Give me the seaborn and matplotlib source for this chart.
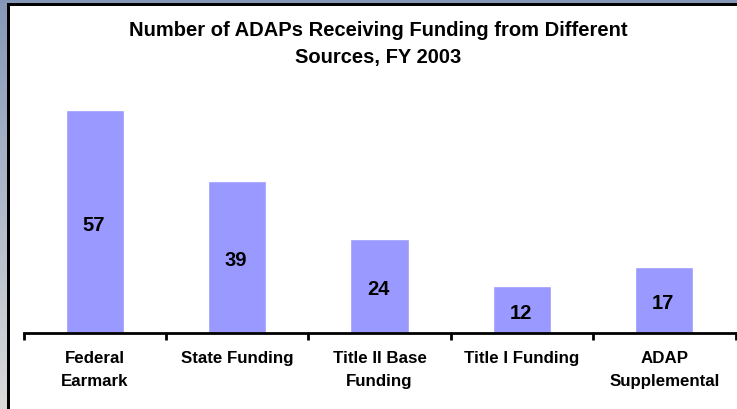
import numpy as np
import pandas as pd
import matplotlib
matplotlib.use("Agg")
import matplotlib.pyplot as plt
from matplotlib.patches import Rectangle
import seaborn as sns

categories = ["Federal\nEarmark", "State Funding", "Title II Base\nFunding", "Title I Funding", "ADAP\nSupplemental"]
values = [57, 39, 24, 12, 17]
title = "Number of ADAPs Receiving Funding from Different\nSources, FY 2003"

sns.set_theme(style="white")
plt.rcParams['font.family'] = ['Liberation Sans', 'DejaVu Sans']

W, H = 737, 410
fig = plt.figure(figsize=(W / 100, H / 100), dpi=100)
fig.patch.set_facecolor("white")

# background frame
bg = fig.add_axes([0, 0, 1, 1], zorder=-10)
bg.set_xlim(0, W)
bg.set_ylim(H, 0)
bg.axis("off")
grad = np.linspace(0, 1, 256)[:, None]
c_top = np.array([0x86, 0x98, 0xb7]) / 255
c_bot = np.array([0xda, 0xda, 0xda]) / 255
img = (c_top[None, None, :] * (1 - grad[:, :, None]) + c_bot[None, None, :] * grad[:, :, None])
bg.imshow(img, extent=(0, 7.5, H, 0), aspect="auto", zorder=0)
bg.add_patch(Rectangle((0, 0), W, 4.5, color="#8596b6", lw=0, zorder=1))
bg.add_patch(Rectangle((7.5, 4), W, 2.5, color="black", lw=0, zorder=2))
bg.add_patch(Rectangle((7.5, 4), 3, H, color="black", lw=0, zorder=2))

left, right = 23.5 / W, 735.5 / W
bottom, top = 1 - 334 / H, 1 - 99.4 / H
ax = fig.add_axes([left, bottom, right - left, top - bottom])
ax.patch.set_alpha(0)

df = pd.DataFrame({"cat": categories, "val": values})
sns.barplot(data=df, x="cat", y="val", color="#9999ff", saturation=1, width=0.41, ax=ax)
ax.set_xlim(-0.5, len(categories) - 0.5)
ax.set_ylim(0, 60)
ax.set_xlabel("")
ax.set_ylabel("")
ax.set_yticks([])

for s in ["top", "right", "left"]:
    ax.spines[s].set_visible(False)
ax.spines["bottom"].set_linewidth(2)
ax.spines["bottom"].set_color("black")

ax.set_xticks(np.arange(-0.5, len(categories)), minor=True)
ax.tick_params(axis="x", which="minor", direction="out", length=5, width=2, color="black", bottom=True)
ax.tick_params(axis="x", which="major", length=0, pad=12)
for lab in ax.get_xticklabels():
    lab.set_fontweight("bold")
    lab.set_fontsize(12.2)
    lab.set_linespacing(1.7)
    lab.set_color("black")

for i, v in enumerate(values):
    ax.annotate(str(v), (i - 0.01, v / 2), xytext=(0, -2), textcoords="offset points",
                ha="center", va="center", fontsize=14.5, fontweight="bold", color="black")

fig.text(378 / W, 1 - 44 / H, title, ha="center", va="center", fontsize=14.5, fontweight="bold",
         linespacing=1.5, color="black")

fig.savefig("out.png", dpi=100)
